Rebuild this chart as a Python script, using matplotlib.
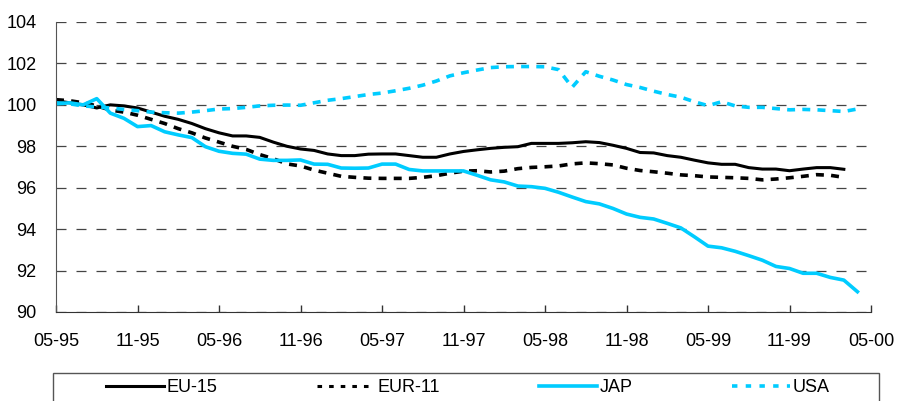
import matplotlib.pyplot as plt
from matplotlib.lines import Line2D
from matplotlib.patches import Rectangle
import numpy as np

plt.rcParams['font.family'] = ['Liberation Sans', 'DejaVu Sans']

# monthly index values, 05-95 = month 0
eu15 = [100.2, 100.1, 100.0, 99.85, 100.0, 99.95, 99.85, 99.65, 99.45, 99.3,
        99.1, 98.85, 98.65, 98.5, 98.5, 98.43, 98.2, 98.0, 97.87, 97.8,
        97.63, 97.55, 97.55, 97.62, 97.63, 97.63, 97.55, 97.47, 97.47, 97.63,
        97.75, 97.83, 97.9, 97.95, 97.98, 98.14, 98.14, 98.14, 98.17, 98.22,
        98.18, 98.05, 97.9, 97.7, 97.68, 97.55, 97.47, 97.33, 97.2, 97.13,
        97.13, 96.97, 96.9, 96.9, 96.82, 96.9, 96.97, 96.97, 96.89]
eur11 = [100.25, 100.2, 100.1, 99.95, 99.75, 99.65, 99.5, 99.3, 99.1, 98.85,
         98.65, 98.4, 98.2, 98.0, 97.85, 97.6, 97.4, 97.15, 97.05, 96.85,
         96.7, 96.55, 96.5, 96.46, 96.45, 96.45, 96.45, 96.5, 96.58, 96.7,
         96.8, 96.82, 96.76, 96.8, 96.92, 96.98, 97.01, 97.05, 97.15, 97.2,
         97.16, 97.1, 96.94, 96.83, 96.77, 96.7, 96.62, 96.58, 96.52, 96.5,
         96.48, 96.45, 96.38, 96.42, 96.48, 96.55, 96.63, 96.6, 96.5]
jap = [100.05, 100.1, 100.0, 100.3, 99.6, 99.35, 98.95, 99.0, 98.7, 98.55,
       98.42, 97.98, 97.76, 97.66, 97.62, 97.38, 97.32, 97.32, 97.34, 97.14,
       97.13, 96.95, 96.94, 96.95, 97.14, 97.14, 96.88, 96.81, 96.81, 96.81,
       96.81, 96.6, 96.38, 96.28, 96.08, 96.05, 95.97, 95.78, 95.55, 95.33,
       95.22, 95.0, 94.73, 94.57, 94.49, 94.28, 94.06, 93.63, 93.18, 93.1,
       92.93, 92.72, 92.5, 92.2, 92.1, 91.87, 91.87, 91.67, 91.54, 90.98]
usa = [100.1, 100.05, 99.95, 99.9, 99.85, 99.78, 99.72, 99.65, 99.62, 99.6,
       99.65, 99.72, 99.8, 99.82, 99.88, 99.95, 99.98, 99.99, 99.98, 100.1,
       100.22, 100.3, 100.4, 100.5, 100.57, 100.68, 100.8, 100.95, 101.15, 101.4,
       101.55, 101.68, 101.8, 101.84, 101.85, 101.85, 101.84, 101.7, 100.85, 101.6,
       101.38, 101.2, 100.98, 100.84, 100.66, 100.5, 100.37, 100.15, 99.96, 100.15,
       99.95, 99.88, 99.88, 99.82, 99.76, 99.78, 99.76, 99.72, 99.68, 99.8]

tick_labels = ['05-95', '11-95', '05-96', '11-96', '05-97', '11-97',
               '05-98', '11-98', '05-99', '11-99', '05-00']
yticks = [90, 92, 94, 96, 98, 100, 102, 104]

cyan = '#00CCFF'
W, H = 898, 401
fig = plt.figure(figsize=(W / 100, H / 100), dpi=100)
ax = fig.add_axes([56 / W, 1 - 312 / H, (871 - 56) / W, (312 - 22) / H])

ax.plot(np.arange(len(eu15)), eu15, color='black', lw=2.2, label='EU-15')
ax.plot(np.arange(len(eur11)), eur11, color='black', lw=2.6,
        dashes=(2.2, 2.0), label='EUR-11')
ax.plot(np.arange(len(jap)), jap, color=cyan, lw=2.6, label='JAP')
ax.plot(np.arange(len(usa)), usa, color=cyan, lw=2.6,
        dashes=(2.2, 2.0), label='USA')

ax.set_xlim(0, 60)
ax.set_ylim(90, 104)
ax.set_xticks(np.arange(0, 61, 6))
ax.set_xticklabels(tick_labels)
ax.set_yticks(yticks)
ax.tick_params(axis='x', direction='in', length=5, width=1, pad=15,
               labelsize=13, color='#333333')
ax.tick_params(axis='y', length=0, pad=14, labelsize=13)
for s in ['top', 'right']:
    ax.spines[s].set_visible(False)
ax.spines['left'].set_color('#555555')
ax.spines['bottom'].set_color('#333333')
ax.yaxis.grid(True, color='#444444', lw=0.9, dashes=(8, 8))
ax.set_axisbelow(True)

# legend box, cut by the bottom edge as in the original
fig.patches.append(Rectangle((53 / W, 1 - 412 / H), (879 - 53) / W, 39 / H,
                             transform=fig.transFigure, fill=False,
                             edgecolor='#555555', lw=1))
handles = [Line2D([], [], color='black', lw=2.2),
           Line2D([], [], color='black', lw=2.2, dashes=(1.5, 2.3)),
           Line2D([], [], color=cyan, lw=2.6),
           Line2D([], [], color=cyan, lw=2.6, dashes=(1.5, 2.3))]
fig.legend(handles, ['EU-15', 'EUR-11', 'JAP', 'USA'], ncol=4,
           loc='center', bbox_to_anchor=(468 / W, 1 - 388 / H),
           frameon=False, fontsize=13, handlelength=3.2,
           handletextpad=0.15, columnspacing=5.5, borderpad=0)

fig.savefig('out.png', dpi=100)
